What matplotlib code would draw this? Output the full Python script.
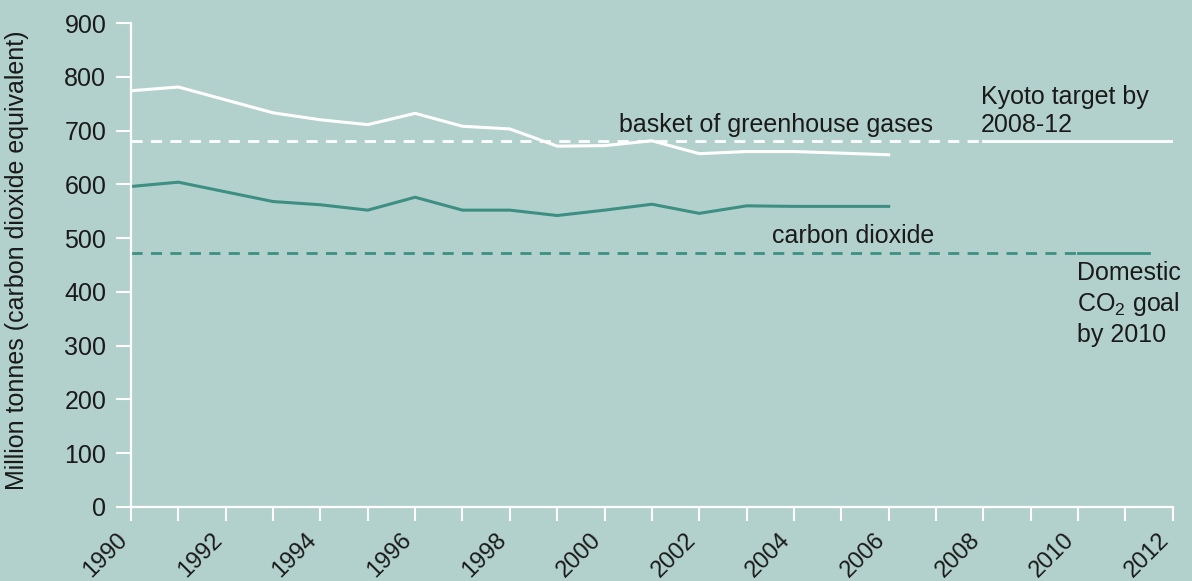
import matplotlib
matplotlib.use("Agg")
import matplotlib.pyplot as plt
from matplotlib.transforms import ScaledTranslation

plt.rcParams['font.family'] = ['Liberation Sans', 'DejaVu Sans']
plt.rcParams['mathtext.fontset'] = 'custom'
plt.rcParams['mathtext.rm'] = 'Liberation Sans'
plt.rcParams['mathtext.it'] = 'Liberation Sans'

years = [1990, 1991, 1992, 1993, 1994, 1995, 1996, 1997, 1998, 1999, 2000,
         2001, 2002, 2003, 2004, 2005, 2006]
ghg_basket = [774, 781, 757, 733, 720, 711, 732, 708, 703, 671, 672,
              681, 657, 661, 661, 658, 655]
co2 = [596, 604, 586, 568, 562, 552, 576, 552, 552, 542, 552,
       563, 546, 560, 559, 559, 559]

kyoto_target = 680
kyoto_dash_years = [1990, 2008]
kyoto_solid_years = [2008, 2012]
co2_goal = 473
co2_dash_years = [1990, 2010]
co2_solid_years = [2010, 2011.5]

xtick_years = list(range(1990, 2013, 2))
yticks = list(range(0, 1000, 100))

bg = '#b3d1cc'
teal = '#3d8f83'
txt = '#1a1a1a'
fs = 18

fig = plt.figure(figsize=(11.92, 5.81), dpi=100, facecolor=bg)
ax = fig.add_axes([0.1099, 0.1274, 0.874, 0.833])
ax.set_facecolor(bg)

ax.plot(years, ghg_basket, color='white', lw=2.2)
ax.plot(years, co2, color=teal, lw=2.2)
ax.plot(kyoto_dash_years, [kyoto_target] * 2, color='white', lw=2, ls=(0, (4, 3)))
ax.plot(kyoto_solid_years, [kyoto_target] * 2, color='white', lw=2)
ax.plot(co2_dash_years, [co2_goal] * 2, color=teal, lw=2, ls=(0, (4, 3)))
ax.plot(co2_solid_years, [co2_goal] * 2, color=teal, lw=2)

ax.set_xlim(1990, 2012)
ax.set_ylim(0, 900)
ax.set_xticks(range(1990, 2013))
ax.set_xticklabels([str(y) if y in xtick_years else '' for y in range(1990, 2013)],
                   rotation=45, ha='right', va='center', rotation_mode='anchor')
ax.set_yticks(yticks)
ax.tick_params(axis='y', colors='white', labelcolor=txt, labelsize=fs,
               length=10.8, width=1.5, direction='out', pad=7)
ax.tick_params(axis='x', colors='white', labelcolor=txt, labelsize=17,
               length=10, width=1.5, direction='out', pad=11)
shift = ScaledTranslation(-5 / 72, 0, fig.dpi_scale_trans)
for lab in ax.get_xticklabels():
    lab.set_transform(lab.get_transform() + shift)

for s in ['top', 'right']:
    ax.spines[s].set_visible(False)
for s in ['left', 'bottom']:
    ax.spines[s].set_color('white')
    ax.spines[s].set_linewidth(1.6)

ax.set_ylabel('Million tonnes (carbon dioxide equivalent)', fontsize=fs, color=txt)
ax.yaxis.set_label_coords(-0.098, 0.51)

ax.text(2006.93, 688, 'basket of greenhouse gases', fontsize=fs, color=txt,
        ha='right', va='bottom')
ax.text(2006.97, 482, 'carbon dioxide', fontsize=fs, color=txt,
        ha='right', va='bottom')
ax.text(2007.95, 688, 'Kyoto target by\n2008-12', fontsize=fs, color=txt,
        ha='left', va='bottom', linespacing=1.2)
ax.text(2009.98, 458, 'Domestic\nCO$_2$ goal\nby 2010', fontsize=fs, color=txt,
        ha='left', va='top', linespacing=1.25)

fig.savefig('out.png', dpi=100, facecolor=bg)
